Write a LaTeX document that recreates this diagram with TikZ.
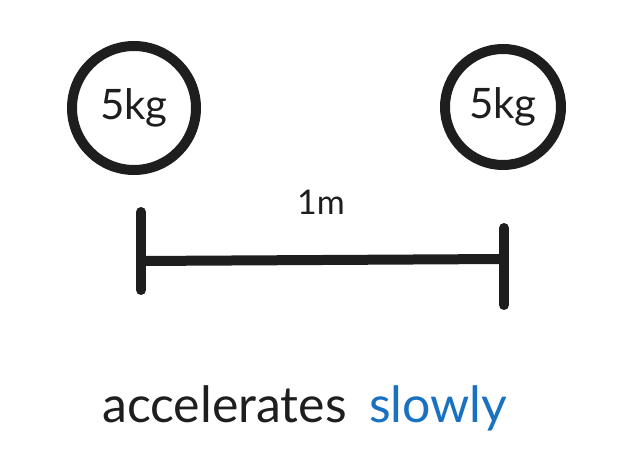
\documentclass[tikz,border=0pt]{standalone}
\usepackage{fontspec}
\setmainfont{Lato}
\usepackage{xcolor}
\usetikzlibrary{positioning}
\definecolor{ink}{HTML}{1E1E1E}
\definecolor{inkblue}{HTML}{1971C2}
\tikzset{
  mass/.style={circle,draw=ink,line width=10pt,minimum size=#1,inner sep=0pt,
    font=\fontsize{42}{50}\selectfont,text=ink},
  bar/.style={draw=ink,line width=10pt,line cap=round},
  caption/.style={font=\fontsize{50}{58}\selectfont,inner sep=0pt,anchor=base west},
}

\begin{document}
\begin{tikzpicture}[x=1pt,y=-1pt]
  \useasboundingbox (0,0) rectangle (627,457);
  % masses
  \node[mass=124pt] (massL) at (134,108) {5kg};
  \node[mass=116pt] (massR) at (503,107) {5kg};
  % distance bar
  \coordinate (lTop) at (141,212);
  \coordinate (lBot) at (141,290);
  \coordinate (lMid) at (141,261);
  \coordinate (rTop) at (504,228);
  \coordinate (rBot) at (504,305);
  \coordinate (rMid) at (504,259);
  \draw[bar] (lTop) -- (lBot);
  \draw[bar] (rTop) -- (rBot);
  \draw[bar] (lMid) -- (rMid);
  \node[font=\fontsize{34}{40}\selectfont,text=ink] (dist) at (321,202) {1m};
  % caption
  \node[caption,text=ink] (acc) at (102,422) {accelerates};
  \node[caption,text=inkblue,right=22pt of acc.base east,anchor=base west] (slow) {slowly};
\end{tikzpicture}
\end{document}
